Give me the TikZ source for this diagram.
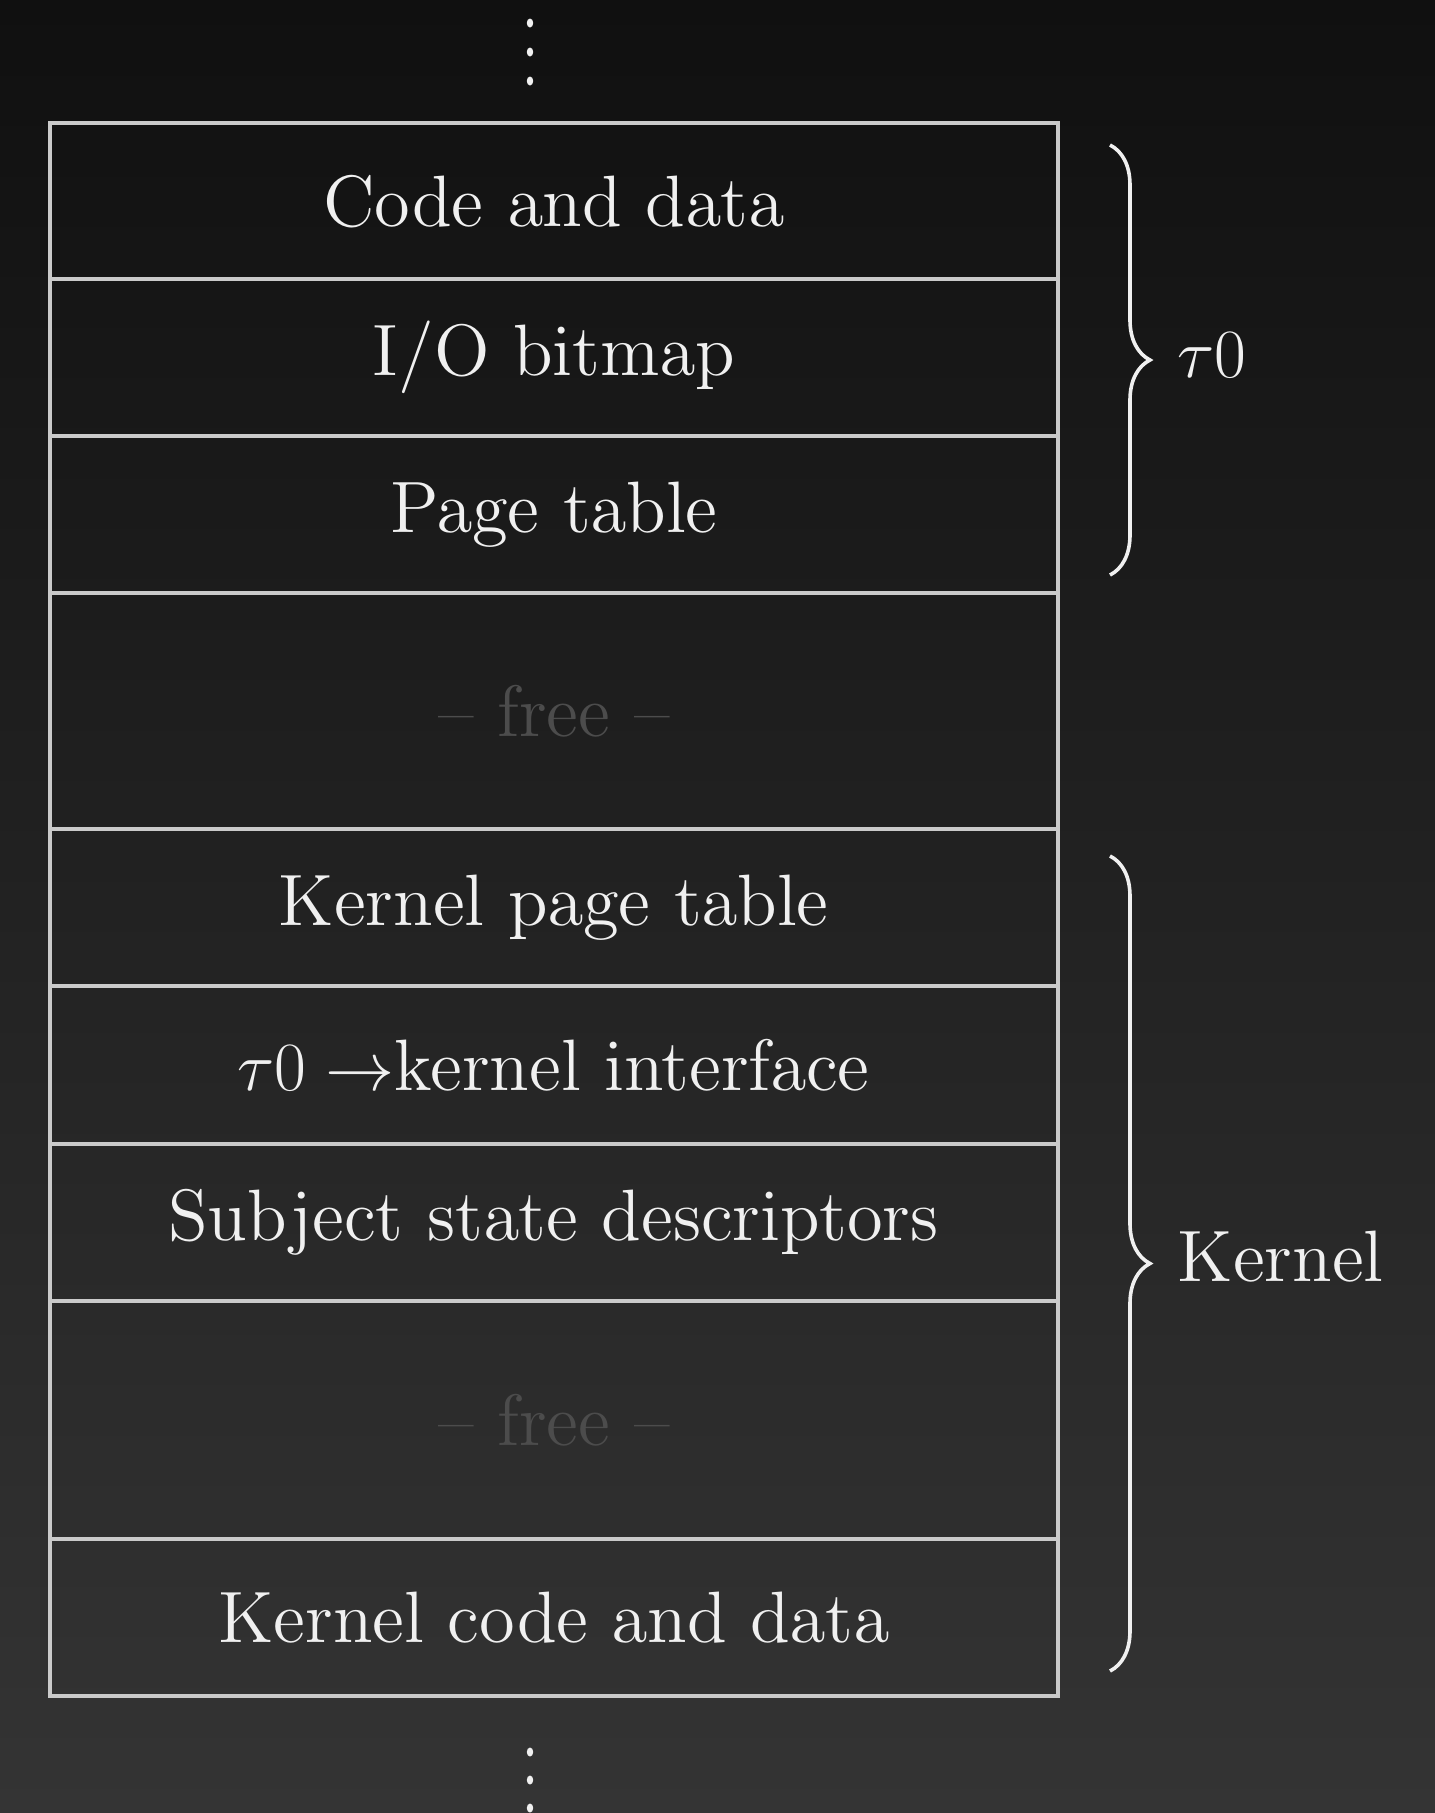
\documentclass[tikz,border=0pt]{standalone}
\usetikzlibrary{decorations.pathreplacing}
\definecolor{bgtop}{HTML}{101010}
\definecolor{bgbot}{HTML}{343434}
\definecolor{linecol}{HTML}{CACACA}
\definecolor{txtcol}{HTML}{F0F0F0}
\definecolor{freecol}{HTML}{4C4C4C}
\font\rowfont=cmr12 at 18.2pt
\newcommand{\rowtext}{\fontsize{18.6}{22}\selectfont\rowfont}
\begin{document}
\begin{tikzpicture}[x=0.25pt,y=-0.25pt,
  rowbox/.style={draw=linecol, line width=0.85pt, minimum width=252pt, inner sep=0pt,
    text=txtcol, font=\rowtext, anchor=center},
  bracedeco/.style={draw=txtcol, line width=0.9pt,
    decorate, decoration={brace, amplitude=10pt, aspect=0.5}},
  sidelabel/.style={text=txtcol, font=\rowtext, anchor=west, inner sep=0pt},
  dotmark/.style={fill=txtcol, draw=none}]
\useasboundingbox (0,0) rectangle (1435,1813);
\shade[top color=bgtop, bottom color=bgbot] (0,0) rectangle (1435,1813);
% rows
\node[rowbox, minimum height=39pt]   (r1) at (554,201)    {Code and data};
\node[rowbox, minimum height=39.25pt](r2) at (554,357.5)  {I/O bitmap};
\node[rowbox, minimum height=39.25pt](r3) at (554,514.5)  {Page table};
\node[rowbox, minimum height=59pt]   (r4) at (554,711)    {\textcolor{freecol}{-- free --}};
\node[rowbox, minimum height=39.25pt](r5) at (554,907.5)  {Kernel page table};
\node[rowbox, minimum height=39.5pt] (r6) at (554,1065)   {$\tau0\rightarrow$kernel interface};
\node[rowbox, minimum height=39.25pt](r7) at (554,1222.5) {Subject state descriptors};
\node[rowbox, minimum height=59.5pt] (r8) at (554,1420)   {\textcolor{freecol}{-- free --}};
\node[rowbox, minimum height=39.25pt](r9) at (554,1617.5) {Kernel code and data};
% braces
\coordinate (b1t) at (1110,145);
\coordinate (b1b) at (1110,575);
\coordinate (b2t) at (1110,856);
\coordinate (b2b) at (1110,1671);
\draw[bracedeco] (b1t) -- (b1b);
\draw[bracedeco] (b2t) -- (b2b);
\node[sidelabel] (tau) at (1177,355) {$\tau0$};
\node[sidelabel] (kern) at (1177,1256) {Kernel};
% dots
\fill[dotmark] (530,23) ellipse (3.2 and 4.5);
\fill[dotmark] (530,52) ellipse (3.2 and 4.5);
\fill[dotmark] (530,81) ellipse (3.2 and 4.5);
\fill[dotmark] (530,1752) ellipse (3.2 and 4.5);
\fill[dotmark] (530,1780) ellipse (3.2 and 4.5);
\fill[dotmark] (530,1808) ellipse (3.2 and 4.5);
\end{tikzpicture}
\end{document}
